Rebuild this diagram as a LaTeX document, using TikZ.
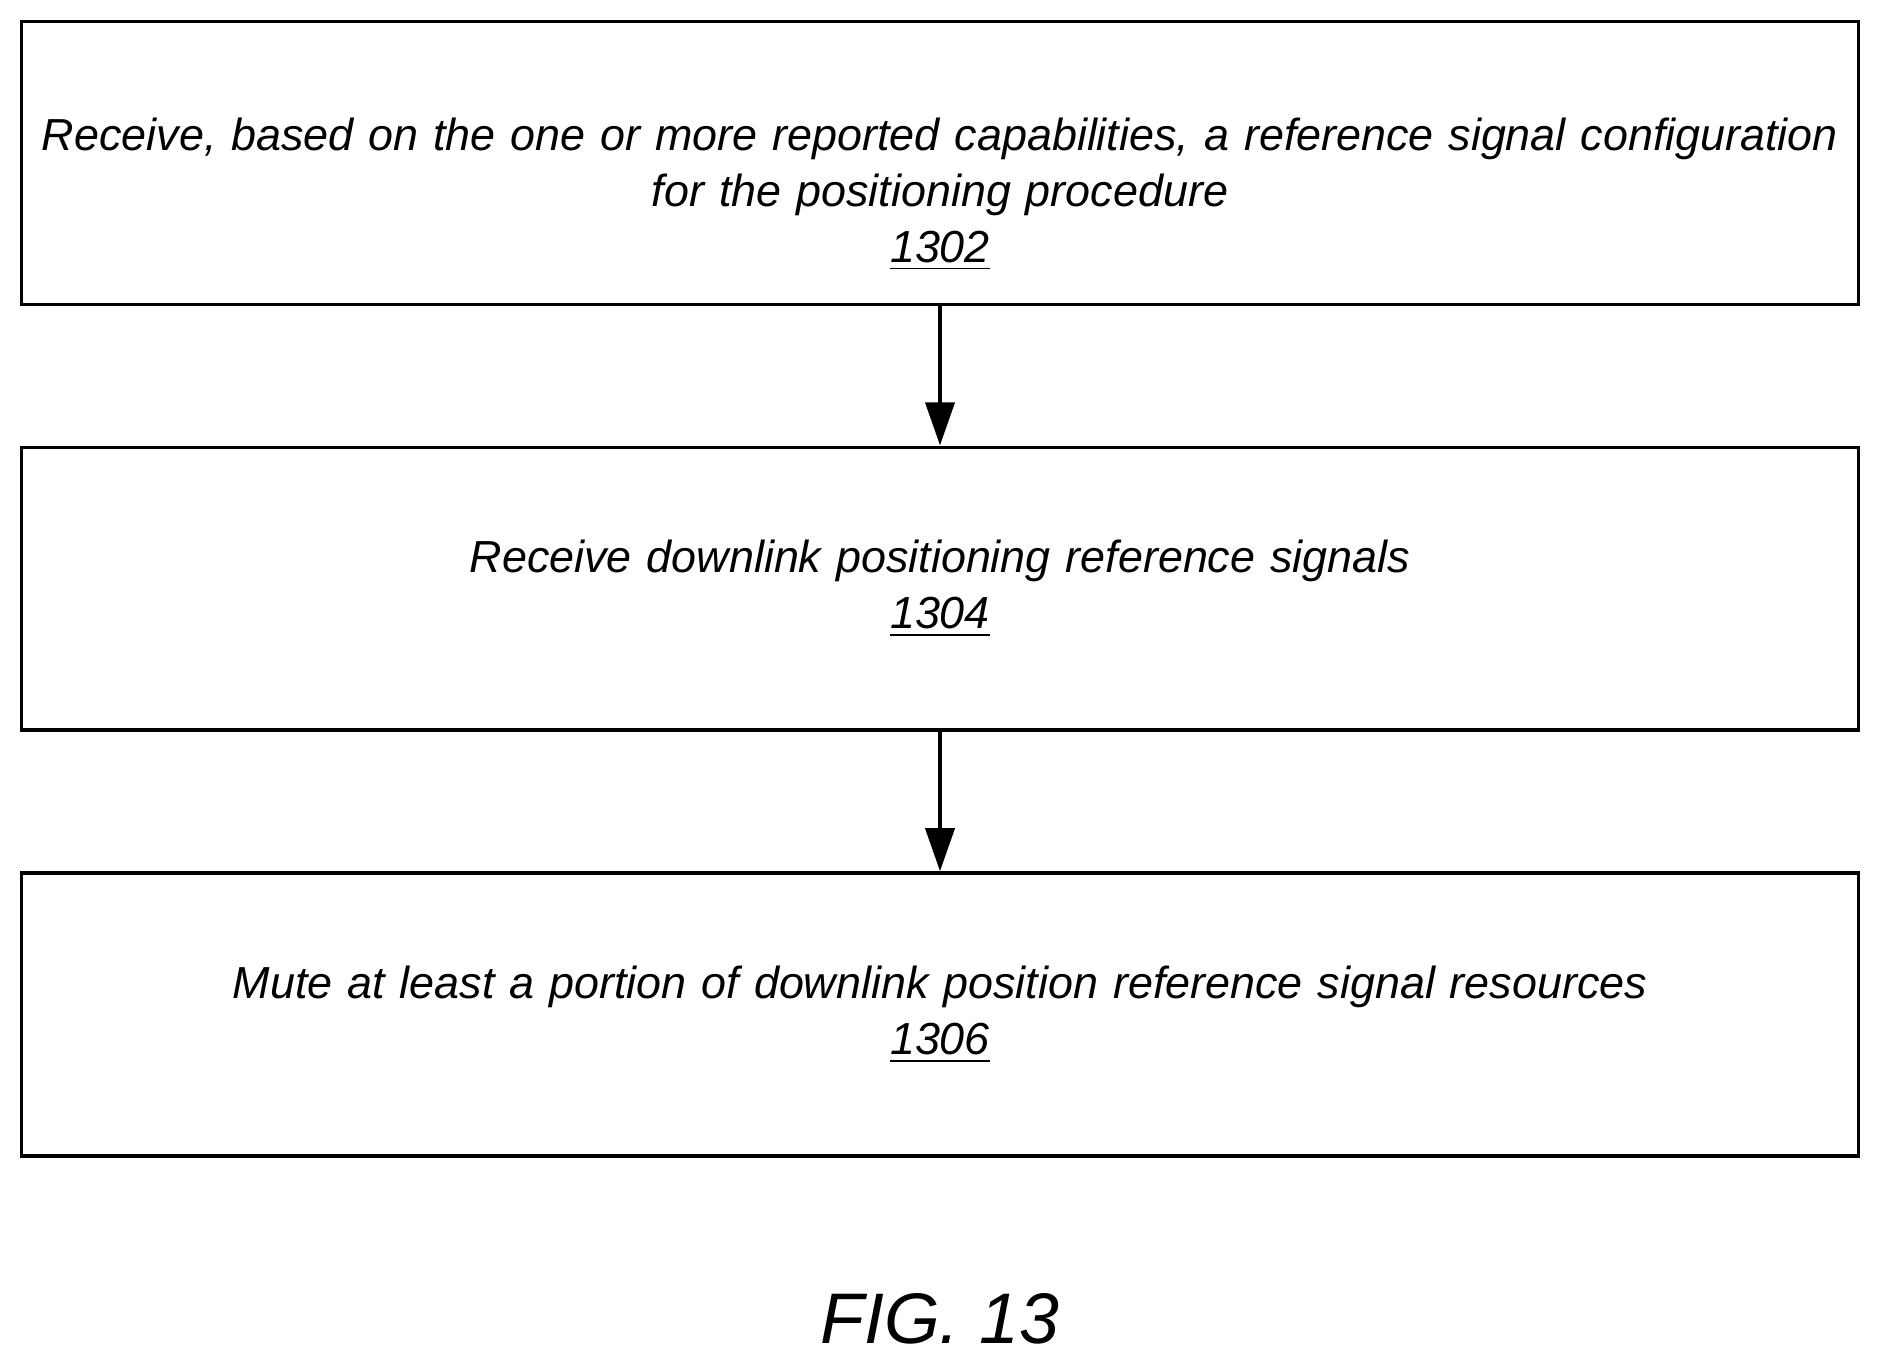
\documentclass[tikz,border=0pt]{standalone}
\usepackage{fontspec}
\setmainfont{Liberation Sans}
\usetikzlibrary{positioning, arrows.meta}

\begin{document}
\begin{tikzpicture}
	\tikzstyle{stepbox}=[rectangle, draw=black, line width=0.9pt, minimum width=15.32cm, minimum height=2.36cm, text width=15.1cm, inner xsep=0pt, align=center, font=\fontsize{10.65}{13.2}\selectfont\itshape]
	\tikzstyle{steparrow}=[line width=1.1pt, -{Triangle[length=3.6mm, width=2.4mm]}]

	\useasboundingbox (0cm, 0cm) rectangle (15.68cm, -11.40cm);

	\node[stepbox] (step1302) at (7.84cm, -1.36cm) {\rule{0pt}{0.8cm}Receive, based on the one or more reported capabilities, a reference signal configuration\\for the positioning procedure\\\underline{1302}};
	\node[stepbox, below=1.16cm of step1302] (step1304) {Receive downlink positioning reference signals\\\underline{1304}};
	\node[stepbox, below=1.16cm of step1304] (step1306) {Mute at least a portion of downlink position reference signal resources\\\underline{1306}};

	\draw[steparrow] (step1302) -- (step1304);
	\draw[steparrow] (step1304) -- (step1306);

	\node[font=\fontsize{17}{20}\selectfont\itshape] (figlabel) at (7.84cm, -11.0cm) {FIG. 13};
\end{tikzpicture}
\end{document}
